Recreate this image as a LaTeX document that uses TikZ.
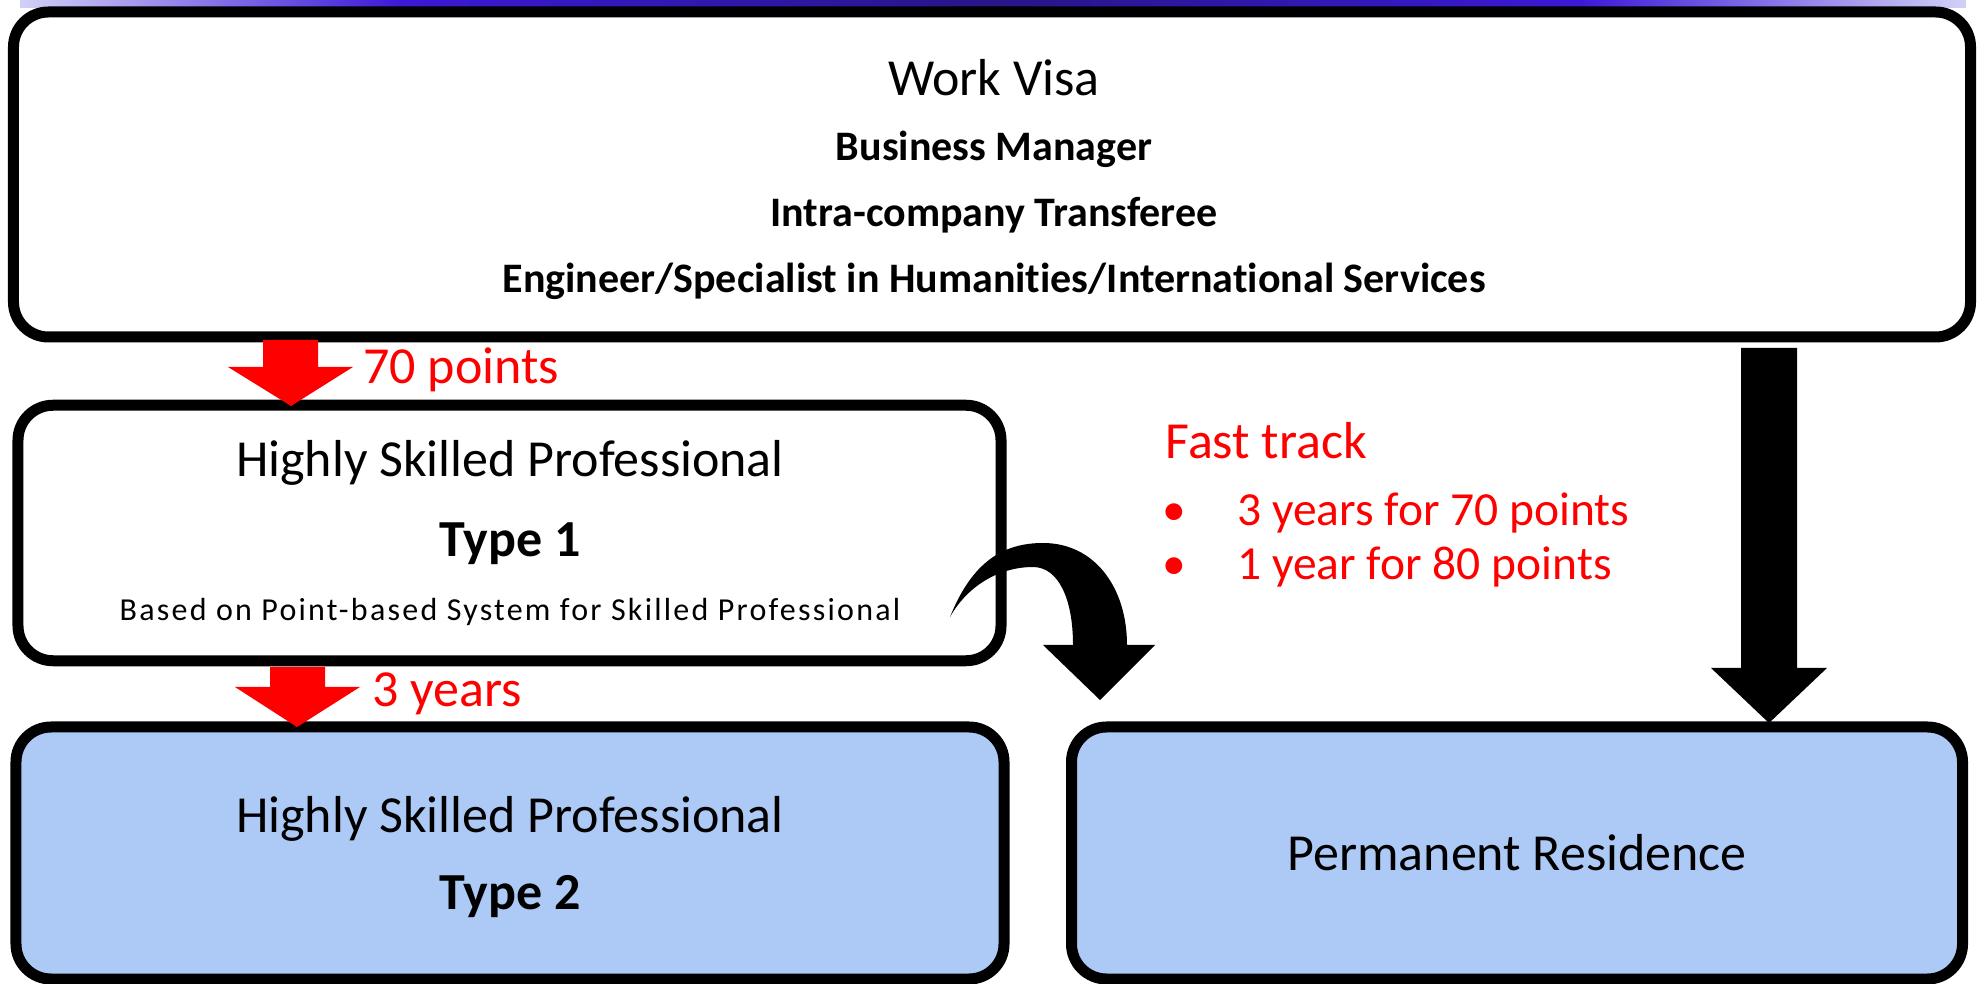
\documentclass[tikz,border=0pt]{standalone}
\usepackage{fontspec}
\setmainfont{Carlito}[Ligatures={NoCommon}]
\definecolor{boxblue}{RGB}{173,201,246}
\definecolor{barlight}{RGB}{210,208,248}
\definecolor{barblue}{RGB}{60,25,215}
\definecolor{barnavy}{RGB}{38,22,135}
\definecolor{redtext}{RGB}{255,0,0}
\newcommand{\fbig}{\fontsize{20.8pt}{24pt}\selectfont}
\newcommand{\fmid}{\fontsize{16.8pt}{20pt}\selectfont\bfseries}
\newcommand{\fbul}{\fontsize{19pt}{22pt}\selectfont}
\newcommand{\fsml}{\fontsize{12.8pt}{15pt}\selectfont\addfontfeatures{LetterSpace=7}}
\tikzset{
  box/.style={draw=black, line width=4.4pt, rounded corners=14pt, inner sep=0pt},
  txt/.style={anchor=base, inner sep=0pt},
  redlbl/.style={anchor=base west, inner sep=0pt, text=redtext, font=\fbig},
  redarrow/.style={fill=redtext, draw=none},
  blackarrow/.style={fill=black, draw=none}
}
\begin{document}
\begin{tikzpicture}[x=0.4pt,y=-0.4pt]
\useasboundingbox (0,0) rectangle (1986,984);
\fill[white] (0,0) rectangle (1986,984);
% top gradient bar
\shade[left color=barlight, right color=barblue] (20,0) rectangle (400,8);
\shade[left color=barblue, right color=barnavy] (400,0) rectangle (993,8);
\shade[left color=barnavy, right color=barblue] (993,0) rectangle (1580,8);
\shade[left color=barblue, right color=barlight] (1580,0) rectangle (1966,8);

% boxes
\node[box, fill=white, minimum width=782.8pt, minimum height=130pt] (work) at (992,174.5) {};
\node[box, fill=white, minimum width=393.2pt, minimum height=102.2pt] (hsp1) at (509.5,533) {};
\node[box, fill=boxblue, minimum width=395.2pt, minimum height=100.8pt] (hsp2) at (510,853) {};
\node[box, fill=boxblue, minimum width=356.4pt, minimum height=100.8pt] (pr) at (1517,853) {};

% texts in top box
\node[txt, font=\fbig] (t1) at (994,96) {Work Visa};
\node[txt, font=\fmid] (t2) at (994,161) {Business Manager};
\node[txt, font=\fmid] (t3) at (994,227) {Intra-company Transferee};
\node[txt, font=\fmid] (t4) at (994,293) {Engineer/Specialist in Humanities/International Services};

% texts in Type 1 box
\node[txt, font=\fbig] (h1a) at (510,477) {Highly Skilled Professional};
\node[txt, font=\fbig\bfseries] (h1b) at (510,557) {Type 1};
\node[txt, font=\fsml] (h1c) at (510,621) {Based on Point-based System for Skilled Professional};

% texts in Type 2 box
\node[txt, font=\fbig] (h2a) at (510,832) {Highly Skilled Professional};
\node[txt, font=\fbig\bfseries] (h2b) at (510,909) {Type 2};

% permanent residence
\node[txt, font=\fbig] (prt) at (1517,870) {Permanent Residence};

% red labels
\node[redlbl] (l70) at (363,384) {70 points};
\node[redlbl] (l3y) at (372,707) {3 years};
\node[redlbl] (fast) at (1165,459) {Fast track};
\node[redlbl, font=\fbul] (b1) at (1162,526) {•};
\node[redlbl, font=\fbul] (b1t) at (1237,526) {3 years for 70 points};
\node[redlbl, font=\fbul] (b2) at (1162,580) {•};
\node[redlbl, font=\fbul] (b2t) at (1237,580) {1 year for 80 points};

% red block arrows
\fill[redarrow] (263,340) -- (318,340) -- (318,367) -- (353,367) -- (291,406) -- (228,367) -- (263,367) -- cycle;
\fill[redarrow] (270,667) -- (325,667) -- (325,687) -- (360,687) -- (297,727) -- (235,687) -- (270,687) -- cycle;

% black straight block arrow
\fill[blackarrow] (1741,348) -- (1797,348) -- (1797,668) -- (1827,668) -- (1769,723) -- (1711,668) -- (1741,668) -- cycle;

% curved arrow
\fill[blackarrow] (950,617) .. controls (972,562) and (1003,543) .. (1043,543)
  .. controls (1095,543) and (1127,588) .. (1127,645) -- (1155,645) -- (1100,700) -- (1043,645) -- (1073,645)
  .. controls (1073,598) and (1058,567) .. (1033,567)
  .. controls (1000,567) and (968,585) .. (950,617) -- cycle;
\end{tikzpicture}
\end{document}
